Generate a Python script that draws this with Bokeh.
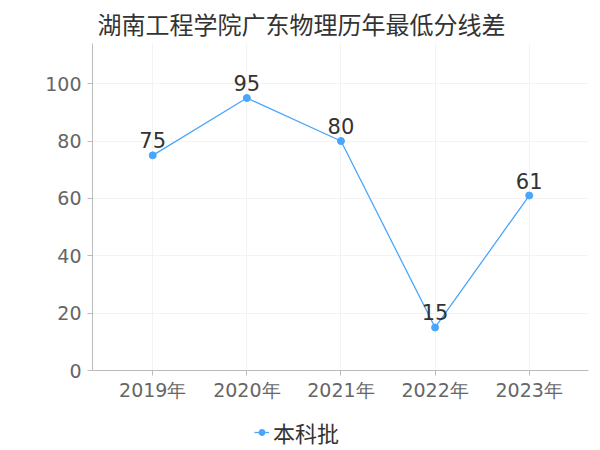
from bokeh.plotting import figure
from bokeh.models import ColumnDataSource, FixedTicker, Legend, LegendItem, Range1d
from bokeh.layouts import column
from bokeh.core.properties import value
from bokeh.embed import file_html
from bokeh.resources import INLINE

title = "湖南工程学院广东物理历年最低分线差"
years = ["2019年", "2020年", "2021年", "2022年", "2023年"]
values = [75, 95, 80, 15, 61]
series_name = "本科批"
y_ticks = [0, 20, 40, 60, 80, 100]

FONT = "DejaVu Sans"
CJK = "Noto Sans CJK SC"
COLOR = "#4aa6fb"

xs = list(range(len(years)))
src = ColumnDataSource(dict(x=xs, y=values, lab=[str(v) for v in values]))

p = figure(frame_width=496, frame_height=327, output_backend="svg", toolbar_location=None,
           x_range=Range1d(-0.64, len(years) - 1 + 0.63), y_range=Range1d(0, 114),
           min_border_left=92, min_border_right=4, min_border_top=43, min_border_bottom=40)

p.title.text = title
p.title.text_font = CJK
p.title.text_font_size = "24px"
p.title.text_font_style = "normal"
p.title.text_color = "#333333"
p.title.offset = 5
p.title.standoff = 2
p.title.vertical_align = "top"

p.outline_line_color = None
p.background_fill_color = "white"

p.xaxis.ticker = FixedTicker(ticks=xs)
p.xaxis.major_label_overrides = {i: y for i, y in enumerate(years)}
p.yaxis.ticker = FixedTicker(ticks=y_ticks)
p.xaxis.minor_tick_line_color = None
p.yaxis.minor_tick_line_color = None
for ax in (p.xaxis, p.yaxis):
    ax.axis_line_color = "#bbbbbb"
    ax.major_tick_line_color = "#bbbbbb"
    ax.major_tick_out = 5
    ax.major_tick_in = 0
    ax.major_label_text_color = "#666666"
    ax.major_label_text_font = FONT
p.xaxis.major_label_text_font_size = "19px"
p.yaxis.major_label_text_font_size = "19px"
p.xaxis.major_label_standoff = 3
p.yaxis.major_label_standoff = 6

p.xgrid.ticker = FixedTicker(ticks=xs)
p.xgrid.grid_line_color = "#f3f3f3"
p.ygrid.grid_line_color = "#f3f3f3"

p.line("x", "y", source=src, line_color=COLOR, line_width=1.3)
p.scatter("x", "y", source=src, size=7, fill_color=COLOR, line_color=COLOR)
p.text("x", "y", text="lab", source=src, text_font=value(FONT), text_font_size="21px",
       text_color="#333333", text_align="center", text_baseline="bottom", y_offset=-7)

# legend strip below the chart (same series drawn out of its view, only the legend shows)
lg = figure(frame_width=592, frame_height=40, output_backend="svg", toolbar_location=None,
            x_range=Range1d(0, 1), y_range=Range1d(-2, -1),
            x_axis_location=None, y_axis_location=None,
            min_border_left=0, min_border_right=0, min_border_top=0, min_border_bottom=0)
lg.outline_line_color = None
lg.xgrid.visible = False
lg.ygrid.visible = False
l_line = lg.line("x", "y", source=src, line_color=COLOR, line_width=1.3)
l_pts = lg.scatter("x", "y", source=src, size=7, fill_color=COLOR, line_color=COLOR)
legend = Legend(items=[LegendItem(label=series_name, renderers=[l_line, l_pts])],
                location=(254, 2), orientation="horizontal",
                label_text_font=CJK, label_text_font_size="22px", label_text_color="#333333",
                border_line_color=None, background_fill_alpha=0,
                glyph_width=15, label_standoff=4, padding=4, margin=0)
lg.add_layout(legend, "center")

layout = column(p, lg, spacing=0)
open("out.html", "w").write(file_html(layout, INLINE))
